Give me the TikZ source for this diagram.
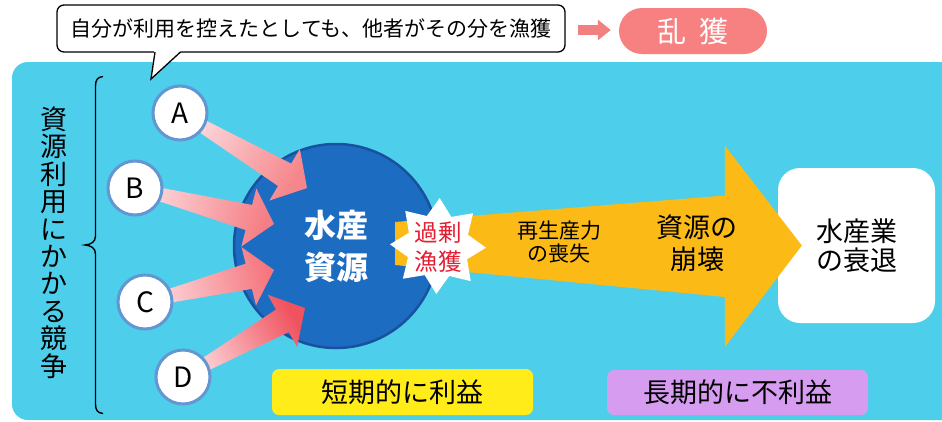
\documentclass[tikz,border=0pt]{standalone}
\usepackage{fontspec}
\setmainfont{Noto Sans CJK JP}
\usetikzlibrary{calc,arrows.meta}
\pgfdeclarelayer{fg}
\pgfsetlayers{main,fg}
\definecolor{cyanbg}{RGB}{77,206,235}
\definecolor{resblue}{RGB}{28,108,194}
\definecolor{resedge}{RGB}{24,82,158}
\definecolor{gold}{RGB}{251,186,22}
\definecolor{salmon}{RGB}{242,128,128}
\definecolor{pillred}{RGB}{247,128,128}
\definecolor{ringblue}{RGB}{100,150,210}
\definecolor{pinklight}{RGB}{252,218,221}
\definecolor{pinkA}{RGB}{245,135,140}
\definecolor{pinkB}{RGB}{245,125,132}
\definecolor{pinkC}{RGB}{245,118,126}
\definecolor{pinkD}{RGB}{240,82,94}
\definecolor{shortyellow}{RGB}{255,236,24}
\definecolor{lavender}{RGB}{214,156,240}
\definecolor{redtext}{RGB}{228,30,50}
\newcommand\shootarrow[4]{%
  \coordinate (#1base) at ($(#2)!26pt!(#1)$);
  \path[top color=#3, bottom color=pinklight, shading angle=#4]
    ($(#1)!5pt!90:(#2)$) -- ($(#1base)!13pt!90:(#2)$) -- ($(#1base)!30pt!90:(#2)$)
    -- (#2) -- ($(#1base)!30pt!-90:(#2)$) -- ($(#1base)!13pt!-90:(#2)$)
    -- ($(#1)!5pt!-90:(#2)$) -- cycle;}
\begin{document}
\begin{tikzpicture}[x=1pt,y=-1pt,
  callout/.style={draw=black, line width=1.3pt, fill=white, rounded corners=7pt,
    minimum width=508pt, minimum height=47pt, inner sep=0pt,
    font=\fontsize{21}{25}\selectfont},
  pillbox/.style={fill=pillred, rounded corners=23pt, minimum width=148pt,
    minimum height=46pt, inner sep=0pt, text=white, font=\fontsize{29}{30}\selectfont},
  smallarrow/.style={draw=salmon, line width=10pt, -{Triangle[length=13pt,width=20pt]}},
  vtext/.style={align=center, inner sep=0pt, font=\fontsize{27}{27.4}\selectfont},
  res/.style={circle, fill=resblue, draw=resedge, line width=2.5pt, minimum size=204pt,
    inner sep=0pt, text=white, align=center, font=\bfseries\fontsize{32}{42}\selectfont},
  endbox/.style={fill=white, rounded corners=22pt, minimum width=157pt, minimum height=155pt,
    inner sep=0pt, align=center, font=\fontsize{27}{28.5}\selectfont},
  midtext/.style={align=center, inner sep=0pt, font=\fontsize{21}{23.5}\selectfont},
  bigtext/.style={align=center, inner sep=0pt, font=\fontsize{27}{32}\selectfont},
  fishtext/.style={align=center, inner sep=0pt, text=redtext, font=\fontsize{23.5}{29}\selectfont},
  player/.style={circle, fill=white, draw=ringblue, line width=3pt, minimum size=54pt,
    inner sep=0pt, font=\fontsize{28}{28}\selectfont},
  lbl/.style={rounded corners=7pt, minimum width=261pt, minimum height=46pt, inner sep=0pt,
    font=\fontsize{27}{28}\selectfont}
]
\useasboundingbox (0,0) rectangle (942,421);
\clip (0,0) rectangle (942,421);
% background panel
\fill[cyanbg, rounded corners=16pt] (12,62) rectangle (990,420);
% callout
\node[callout] (callout) at (311,28.5) {自分が利用を控えたとしても、他者がその分を漁獲};
\fill[white] (154.3,50.8) -- (180.8,50.8) -- (151,79) -- cycle;
\draw[line width=1.3pt, line join=miter] (155,52) -- (151,79) -- (180.5,52);
% overfishing pill
\node[pillbox] (pill) at (693,31) {乱\hspace{0.42em}獲};
\draw[smallarrow] ($(callout.east |- pill.west)+(12,-1)$) -- ($(pill.west)+(-8,-1)$);
% vertical label and brace
\node[vtext] (compete) at (53.5,242.5) {資\\源\\利\\用\\に\\か\\か\\る\\競\\争};
\draw[line width=1.4pt] (103,76.5) .. controls (97.5,77) and (95.5,80) .. (95.5,86)
  -- (95.5,236) .. controls (95.5,242) and (91,244.5) .. (85,245)
  .. controls (91,245.5) and (95.5,248) .. (95.5,254)
  -- (95.5,404) .. controls (95.5,410) and (97.5,413) .. (103,413.5);
% resource circle
\node[res] (res) at (336,246) {水産\\資源};
% decline box
\node[endbox] (decline) at (856.5,245.5) {水産業\\の衰退};
% big yellow arrow
\coordinate (ytip) at ($(decline.west)+(24,0)$);
\fill[gold] ($(res.center)+(59,-24)$) -- ($(ytip)+(-77,-50)$) -- ($(ytip)+(-77,-100)$)
  -- (ytip) -- ($(ytip)+(-77,101.5)$) -- ($(ytip)+(-77,51.5)$)
  -- ($(res.center)+(59,19)$) -- cycle;
\node[midtext] (regen) at (559,242) {再生産力\\の喪失};
\node[bigtext] (collapse) at (697,243) {資源の\\崩壊};
% burst
\coordinate (burst) at (438,246);
\fill[white] ($(burst)+(-88:48)$) -- ($(burst)+(-65.5:32)$) -- ($(burst)+(-43:48)$)
  -- ($(burst)+(-20.5:32)$) -- ($(burst)+(2:48)$) -- ($(burst)+(24.5:32)$)
  -- ($(burst)+(47:48)$) -- ($(burst)+(69.5:32)$) -- ($(burst)+(92:48)$)
  -- ($(burst)+(114.5:32)$) -- ($(burst)+(137:48)$) -- ($(burst)+(159.5:32)$)
  -- ($(burst)+(182:48)$) -- ($(burst)+(204.5:32)$) -- ($(burst)+(227:48)$)
  -- ($(burst)+(249.5:32)$) -- cycle;
\node[fishtext] (overfish) at (438,247) {過剰\\漁獲};
% competitors
\begin{pgfonlayer}{fg}
\node[player] (a) at (180,113) {A};
\node[player] (b) at (135,188) {B};
\node[player] (c) at (145,302) {C};
\node[player] (d) at (183,377) {D};
\end{pgfonlayer}
\coordinate (ta) at (307,188);
\coordinate (tb) at (274,224);
\coordinate (tc) at (274,270);
\coordinate (td) at (305,308);
\shootarrow{a}{ta}{pinkA}{-120.2}
\shootarrow{b}{tb}{pinkB}{-104.5}
\shootarrow{c}{tc}{pinkC}{-76.1}
\shootarrow{d}{td}{pinkD}{-60.5}
% bottom labels
\node[lbl, fill=shortyellow] (short) at (402.5,392) {短期的に利益};
\node[lbl, fill=lavender, minimum height=45pt] (long) at (737.5,392.5) {長期的に不利益};
\end{tikzpicture}
\end{document}
